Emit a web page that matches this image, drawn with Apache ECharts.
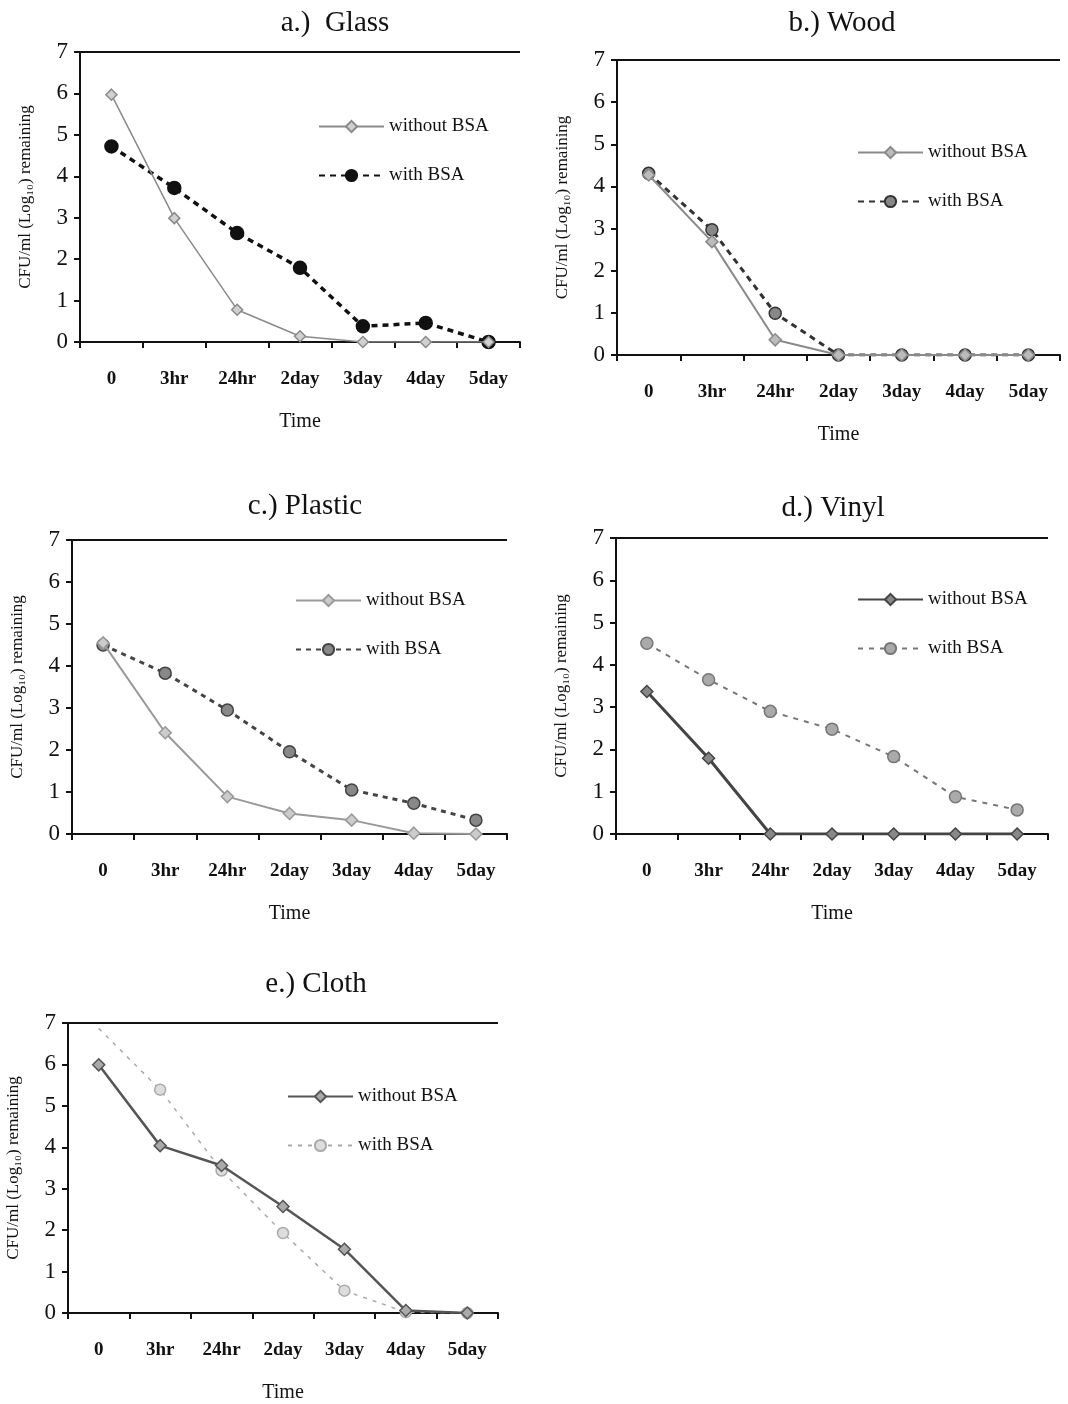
<!DOCTYPE html>
<html>
<head>
<meta charset="utf-8">
<script src="https://cdn.jsdelivr.net/npm/echarts@6/dist/echarts.min.js"></script>
<style>html,body{margin:0;padding:0;background:#fff;}#c{width:1068px;height:1404px;}</style>
</head>
<body>
<div id="c"></div>
<script>
const categories = ['0', '3hr', '24hr', '2day', '3day', '4day', '5day'];
const yTicks = [0, 1, 2, 3, 4, 5, 6, 7];
const panelTitles = ['a.)  Glass', 'b.) Wood', 'c.) Plastic', 'd.) Vinyl', 'e.) Cloth'];
const seriesNames = ['without BSA', 'with BSA'];

const glassWithout = [5.97, 2.99, 0.78, 0.14, 0, 0, 0];
const glassWith = [4.72, 3.72, 2.63, 1.79, 0.38, 0.46, 0];
const woodWithout = [4.27, 2.69, 0.36, 0, 0, 0, 0];
const woodWith = [4.31, 2.97, 0.99, 0, 0, 0, 0];
const plasticWithout = [4.55, 2.41, 0.89, 0.49, 0.33, 0.02, 0];
const plasticWith = [4.5, 3.83, 2.95, 1.96, 1.05, 0.73, 0.33];
const vinylWithout = [3.37, 1.79, 0, 0, 0, 0, 0];
const vinylWith = [4.51, 3.65, 2.9, 2.48, 1.83, 0.88, 0.57];
const clothWithout = [5.99, 4.04, 3.56, 2.57, 1.54, 0.06, 0];
const clothWith = [6.87, 5.39, 3.44, 1.93, 0.54, 0.02, 0];

const panelData = [
  [glassWithout, glassWith],
  [woodWithout, woodWith],
  [plasticWithout, plasticWith],
  [vinylWithout, vinylWith],
  [clothWithout, clothWith]
];

const layout = [
  {grid: {left: 80, top: 52, width: 440, height: 290}, title: [330, 4], legend: [313, 112]},
  {grid: {left: 617, top: 60, width: 443, height: 295}, title: [837, 4], legend: [852, 138]},
  {grid: {left: 72, top: 540, width: 435, height: 294}, title: [300, 487], legend: [290, 586]},
  {grid: {left: 616, top: 538, width: 432, height: 296}, title: [828, 489], legend: [852, 585]},
  {grid: {left: 68, top: 1023, width: 430, height: 293}, title: [311, 965], legend: [282, 1082]}
];

const styles = [
  [{c: '#8a8a8a', w: 1.5, t: 'solid', s: 'diamond', ms: 11, mc: '#d0d0d0'},
   {c: '#111', w: 3.5, t: [6, 5], s: 'circle', ms: 13, mc: '#111'}],
  [{c: '#8a8a8a', w: 2, t: 'solid', s: 'diamond', ms: 12, mc: '#bbb'},
   {c: '#333', w: 3, t: [6, 5], s: 'circle', ms: 12, mc: '#888'}],
  [{c: '#999', w: 2, t: 'solid', s: 'diamond', ms: 12, mc: '#ccc'},
   {c: '#444', w: 3, t: [5, 5], s: 'circle', ms: 12, mc: '#888'}],
  [{c: '#444', w: 3, t: 'solid', s: 'diamond', ms: 12, mc: '#888'},
   {c: '#777', w: 2, t: [5, 6], s: 'circle', ms: 12, mc: '#aaa'}],
  [{c: '#555', w: 2.5, t: 'solid', s: 'diamond', ms: 12, mc: '#aaa'},
   {c: '#aaa', w: 1.5, t: [4, 6], s: 'circle', ms: 11, mc: '#ddd'}]
];

const serif = '"Liberation Serif", "DejaVu Serif", serif';
const grids = [], xAxes = [], yAxes = [], series = [], titles = [], legends = [];
const yMax = yTicks[yTicks.length - 1];

layout.forEach((L, i) => {
  grids.push(L.grid);
  titles.push({
    text: panelTitles[i], left: L.title[0], top: L.title[1], textAlign: 'center',
    textStyle: {fontFamily: serif, fontSize: 29, fontWeight: 'normal', color: '#111'}
  });
  xAxes.push({
    type: 'category', gridIndex: i, data: categories, boundaryGap: true, position: 'bottom',
    name: 'Time', nameLocation: 'middle', nameGap: 70,
    nameTextStyle: {fontFamily: serif, fontSize: 20, color: '#111'},
    axisLine: {onZero: false, lineStyle: {color: '#111', width: 2}},
    axisTick: {show: true, length: 6, alignWithLabel: false, lineStyle: {color: '#111', width: 2}},
    axisLabel: {fontFamily: serif, fontSize: 19, fontWeight: 'bold', color: '#111', margin: 28, interval: 0},
    splitLine: {show: false}
  });
  yAxes.push({
    type: 'value', gridIndex: i, min: yTicks[0], max: yMax, interval: 1,
    name: 'CFU/ml (Log\u2081\u2080) remaining', nameLocation: 'middle', nameGap: 46, nameRotate: 90,
    nameTextStyle: {fontFamily: serif, fontSize: 17, color: '#111'},
    axisLine: {show: true, lineStyle: {color: '#111', width: 2}},
    axisTick: {show: true, length: 6, lineStyle: {color: '#111', width: 2}},
    axisLabel: {fontFamily: serif, fontSize: 23, color: '#111', margin: 12},
    splitLine: {show: false}
  });
  const legendData = [];
  panelData[i].forEach((vals, k) => {
    const st = styles[i][k];
    const id = 'p' + i + 's' + k;
    legendData.push(id);
    const s = {
      id: id, name: id, type: 'line', xAxisIndex: i, yAxisIndex: i,
      data: (i === 4 && k === 1) ? vals.map((v, j) => j === 0 ? {value: v, symbol: 'none'} : v) : vals,
      symbol: st.s, symbolSize: st.ms,
      lineStyle: {color: st.c, width: st.w, type: st.t},
      itemStyle: {color: st.mc, borderColor: st.c, borderWidth: 1.5},
      z: k === 0 ? 3 : 2
    };
    if (k === 0) {
      s.markLine = {
        silent: true, symbol: ['none', 'none'], animation: false,
        label: {show: false},
        lineStyle: {color: '#111', width: 2, type: 'solid'},
        data: [{yAxis: yMax}]
      };
    }
    series.push(s);
  });
  legends.push({
    data: legendData, left: L.legend[0], top: L.legend[1], orient: 'vertical',
    itemWidth: 65, itemHeight: 14, itemGap: 30,
    formatter: name => seriesNames[Number(name.slice(-1))],
    textStyle: {fontFamily: serif, fontSize: 19, color: '#111'}
  });
});

const chart = echarts.init(document.getElementById('c'), null, {renderer: 'canvas'});
chart.setOption({
  animation: false,
  backgroundColor: '#fff',
  title: titles, grid: grids, xAxis: xAxes, yAxis: yAxes, legend: legends, series: series
});
</script>
</body>
</html>
